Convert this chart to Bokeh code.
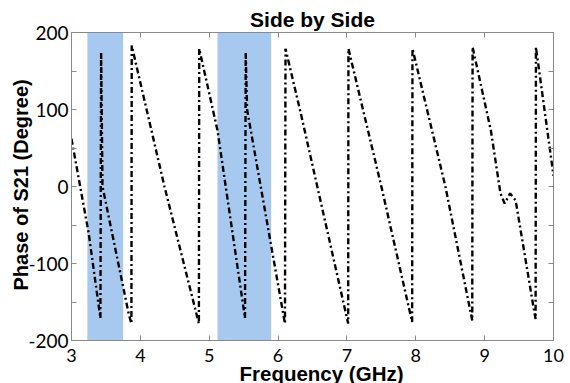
from bokeh.plotting import figure
from bokeh.models import LinearAxis, Range1d, FixedTicker, CustomJSTickFormatter, Title
from bokeh.embed import file_html
from bokeh.resources import INLINE

# ---- data ----
freq_ghz = [3.00, 3.25, 3.42, 3.43, 3.45, 3.83, 3.87, 3.875, 4.35, 4.85, 4.855,
            5.12, 5.52, 5.53, 5.55, 6.10, 6.108, 6.33, 7.018, 7.022, 7.50, 7.947,
            7.952, 8.43, 8.82, 8.825, 9.09, 9.23, 9.29, 9.37, 9.45, 9.71, 9.74,
            9.745, 10.0]
phase_deg = [62, -61, -171, 174, 0, -165, -178, 183, 0, -178, 179,
             73, -171, 174, 100, -178, 179, 95, -178, 179, 0, -176,
             179, 0, -174, 181, 73, -9, -22, -9, -18, -157, -172,
             181, 14]

band_left = [3.23, 5.12]
band_right = [3.75, 5.90]
band_top = [200, 204]
band_bottom = [-200, -200]

x_ticks = [3, 4, 5, 6, 7, 8, 9, 10]
y_ticks = [-200, -100, 0, 100, 200]
y_minor = [-150, -50, 50, 150]

title_text = "Side by Side"
x_label = "Frequency (GHz)"
y_label = "Phase of S21 (Degree)"

GRAY = "#8a8a8a"

p = figure(width=570, height=383, x_range=Range1d(3, 10), y_range=Range1d(-200, 200),
           output_backend="svg", toolbar_location=None,
           min_border_left=71, min_border_right=17, min_border_top=32, min_border_bottom=43)
p.grid.visible = False
p.outline_line_color = GRAY
p.background_fill_color = "white"
p.border_fill_color = "white"

p.quad(left=band_left, right=band_right, top=band_top, bottom=band_bottom,
       fill_color="#a8c9ef", line_color=None)

p.line(freq_ghz, phase_deg, line_color="black", line_width=2.4, line_dash="6 3 2 3")

def style_axis(ax, size="18px"):
    ax.axis_line_color = GRAY
    ax.major_tick_line_color = GRAY
    ax.minor_tick_line_color = GRAY
    ax.major_tick_in = 5
    ax.major_tick_out = 0
    ax.minor_tick_in = 5
    ax.minor_tick_out = 0
    ax.major_label_text_font = "Lato"
    ax.major_label_text_font_size = size
    ax.major_label_text_color = "black"

xa = p.xaxis[0]
xa.ticker = FixedTicker(ticks=x_ticks)
xa.formatter = CustomJSTickFormatter(code="return tick.toString()")
style_axis(xa)
xa.major_label_standoff = 8

ya = p.yaxis[0]
ya.ticker = FixedTicker(ticks=y_ticks, minor_ticks=y_minor)
ya.formatter = CustomJSTickFormatter(code="return tick.toString()")
style_axis(ya, "19px")
ya.major_label_standoff = 3

blank = CustomJSTickFormatter(code="return ''")
top = LinearAxis(ticker=FixedTicker(ticks=x_ticks), formatter=blank, major_label_standoff=0)
style_axis(top)
p.add_layout(top, "above")
right = LinearAxis(ticker=FixedTicker(ticks=y_ticks, minor_ticks=y_minor), formatter=blank,
                   major_label_standoff=0)
style_axis(right)
p.add_layout(right, "right")

def make_title(text, align, offset, standoff, size):
    return Title(text=text, align=align, offset=offset, standoff=standoff,
                 text_font="Liberation Sans", text_font_size=size,
                 text_font_style="bold", text_color="black")

p.add_layout(make_title(title_text, "center", -4, 3, "21px"), "above")
p.add_layout(make_title(x_label, "left", 168, -10, "20.5px"), "below")
p.add_layout(make_title(y_label, "left", 50, -12, "20px"), "left")

open("out.html", "w").write(file_html(p, INLINE))
